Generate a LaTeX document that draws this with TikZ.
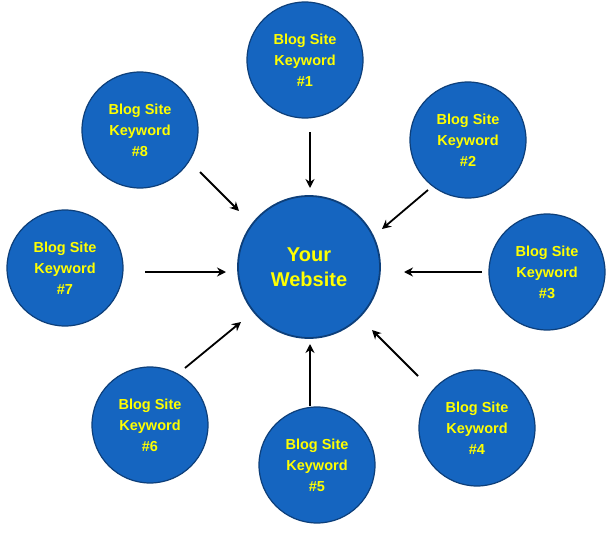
\documentclass[tikz,border=0pt]{standalone}
\usepackage{fontspec}
\setmainfont{Liberation Sans}
\usetikzlibrary{arrows.meta}
\definecolor{blobfill}{HTML}{1565C0}
\definecolor{blobline}{HTML}{0D3F7A}
\definecolor{txt}{HTML}{FFFF00}
\begin{document}
\begin{tikzpicture}[x=1pt,y=-1pt,
  kw/.style={circle,draw=blobline,line width=1.2pt,fill=blobfill,minimum size=116pt,inner sep=0pt,
    text=txt,font=\bfseries\fontsize{14.5}{21}\selectfont,align=center},
  hub/.style={kw,minimum size=142pt,line width=1.8pt,font=\bfseries\fontsize{20}{25}\selectfont},
  arr/.style={-{Stealth[length=9pt,width=9pt]},line width=1.8pt,black}]
\useasboundingbox (0,0) rectangle (614,538);
\node[hub] (c) at (309,267) {Your\\Website};
\node[kw] (k1) at (305,60) {Blog Site\\Keyword\\\#1};
\node[kw] (k2) at (468,140) {Blog Site\\Keyword\\\#2};
\node[kw] (k3) at (547,272) {Blog Site\\Keyword\\\#3};
\node[kw] (k4) at (477,428) {Blog Site\\Keyword\\\#4};
\node[kw] (k5) at (317,465) {Blog Site\\Keyword\\\#5};
\node[kw] (k6) at (150,425) {Blog Site\\Keyword\\\#6};
\node[kw] (k7) at (65,268) {Blog Site\\Keyword\\\#7};
\node[kw] (k8) at (140,130) {Blog Site\\Keyword\\\#8};
\coordinate (a1) at (310,132); \coordinate (b1) at (310,188);
\coordinate (a2) at (428,190); \coordinate (b2) at (382,229);
\coordinate (a3) at (482,272); \coordinate (b3) at (404,272);
\coordinate (a4) at (418,376); \coordinate (b4) at (372,330);
\coordinate (a5) at (310,406); \coordinate (b5) at (310,344);
\coordinate (a6) at (185,368); \coordinate (b6) at (241,322);
\coordinate (a7) at (145,272); \coordinate (b7) at (226,272);
\coordinate (a8) at (200,172); \coordinate (b8) at (239,211);
\foreach \i in {1,...,8} \draw[arr] (a\i) -- (b\i);
\end{tikzpicture}
\end{document}
